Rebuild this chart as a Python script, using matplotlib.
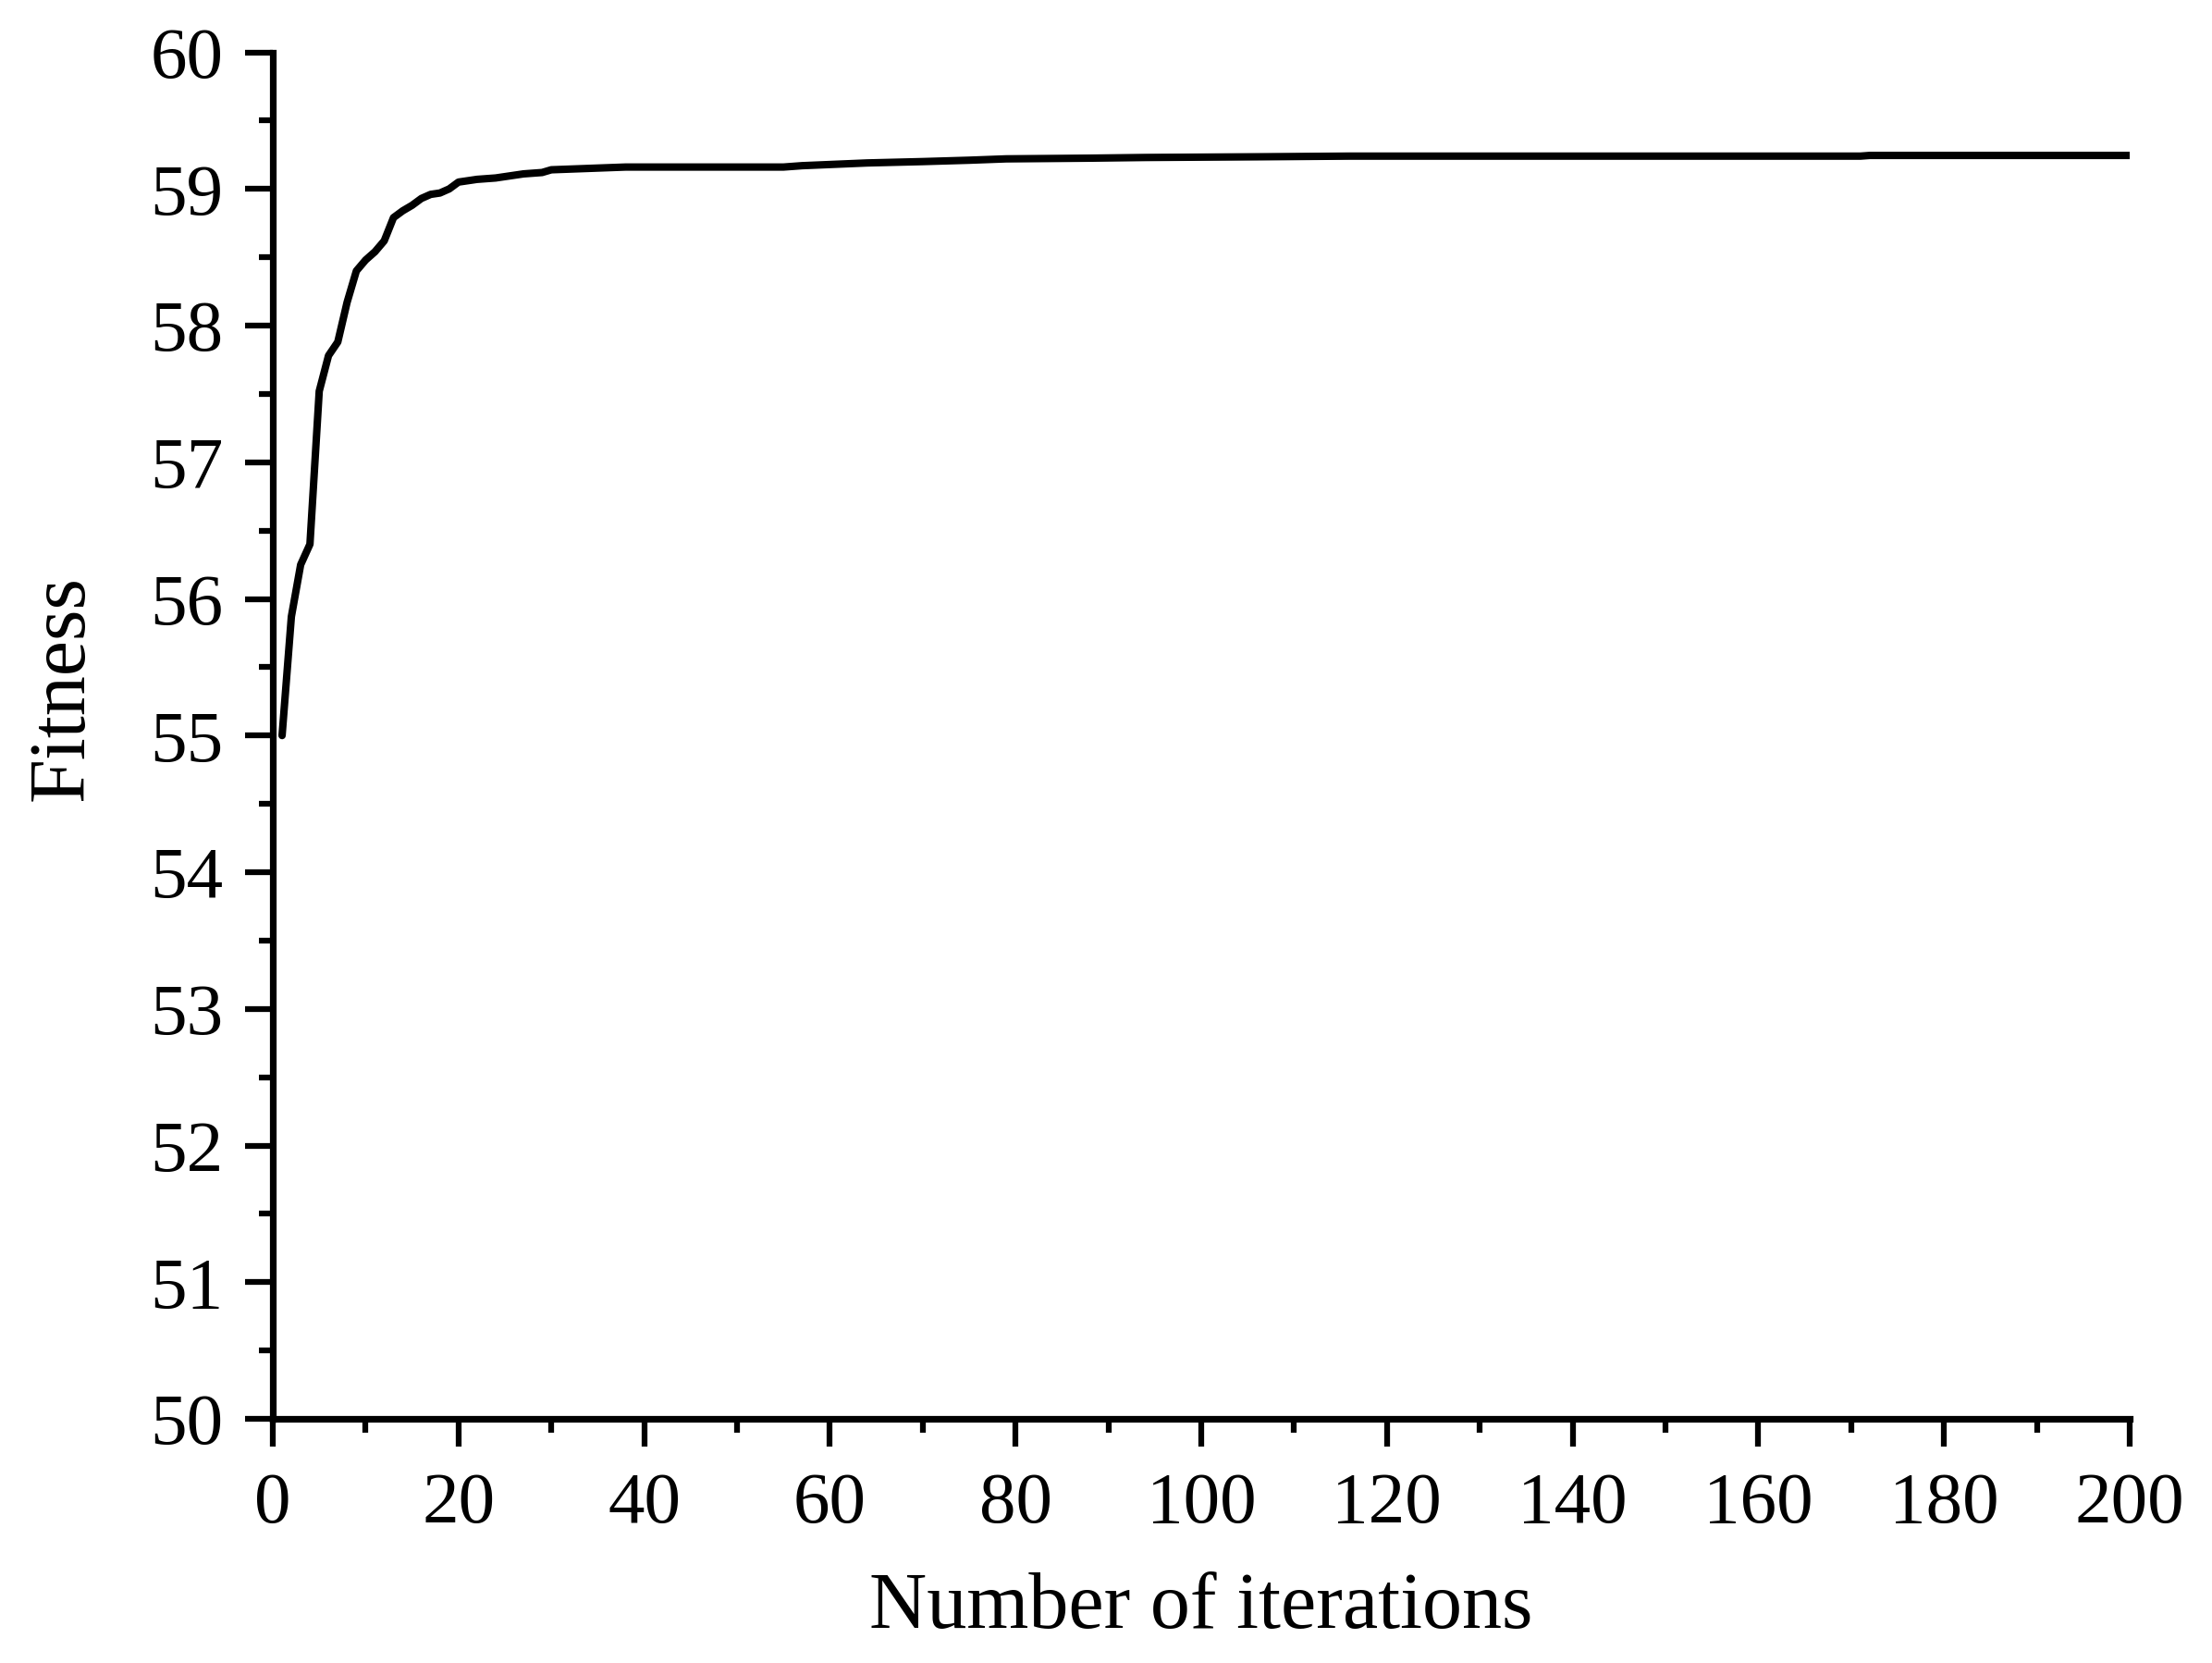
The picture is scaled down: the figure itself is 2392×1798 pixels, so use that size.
import numpy as np
import matplotlib.pyplot as plt
from matplotlib.ticker import MultipleLocator

iteraciones = [1, 2, 3, 4, 5, 6, 7, 8, 9, 10, 11, 12, 13, 14, 15, 16, 17, 18, 19, 20,
               22, 24, 27, 29, 30, 34, 38, 55, 57, 64, 70, 75, 79, 88, 94, 106, 116,
               171, 172, 200]
fitness = [55.0, 55.87, 56.25, 56.40, 57.52, 57.78, 57.88, 58.17, 58.40, 58.48,
           58.54, 58.62, 58.79, 58.84, 58.88, 58.93, 58.96, 58.97, 59.00, 59.05,
           59.07, 59.08, 59.11, 59.12, 59.14, 59.15, 59.16, 59.16, 59.17, 59.19,
           59.20, 59.21, 59.22, 59.225, 59.23, 59.235, 59.24, 59.24, 59.245, 59.245]

plt.rcParams['font.family'] = 'Liberation Serif'

fig = plt.figure(figsize=(23.92, 17.98), dpi=100)
ax = fig.add_axes([295/2392, 1 - 1534/1798, 2008/2392, (1534 - 56.5)/1798])

ax.plot(iteraciones, fitness, color='black', lw=5.8, solid_joinstyle='round',
        solid_capstyle='round')

ax.set_xlim(0, 200)
ax.set_ylim(50, 60)
ax.xaxis.set_major_locator(MultipleLocator(20))
ax.xaxis.set_minor_locator(MultipleLocator(10))
ax.yaxis.set_major_locator(MultipleLocator(1))
ax.yaxis.set_minor_locator(MultipleLocator(0.5))

for s in ['top', 'right']:
    ax.spines[s].set_visible(False)
for s in ['left', 'bottom']:
    ax.spines[s].set_linewidth(5.2)

ax.tick_params(which='major', direction='out', length=21.5, width=4.5,
               labelsize=57, pad=17)
ax.tick_params(which='minor', direction='out', length=11, width=4.5)
ax.tick_params(axis='x', which='major', pad=20)

ax.set_xlabel('Number of iterations', fontsize=62, va='center')
ax.set_ylabel('Fitness', fontsize=62, va='center')
ax.xaxis.set_label_coords(0.5, -0.139)
ax.yaxis.set_label_coords(-0.1125, 0.535)

fig.savefig('out.png', dpi=100)
